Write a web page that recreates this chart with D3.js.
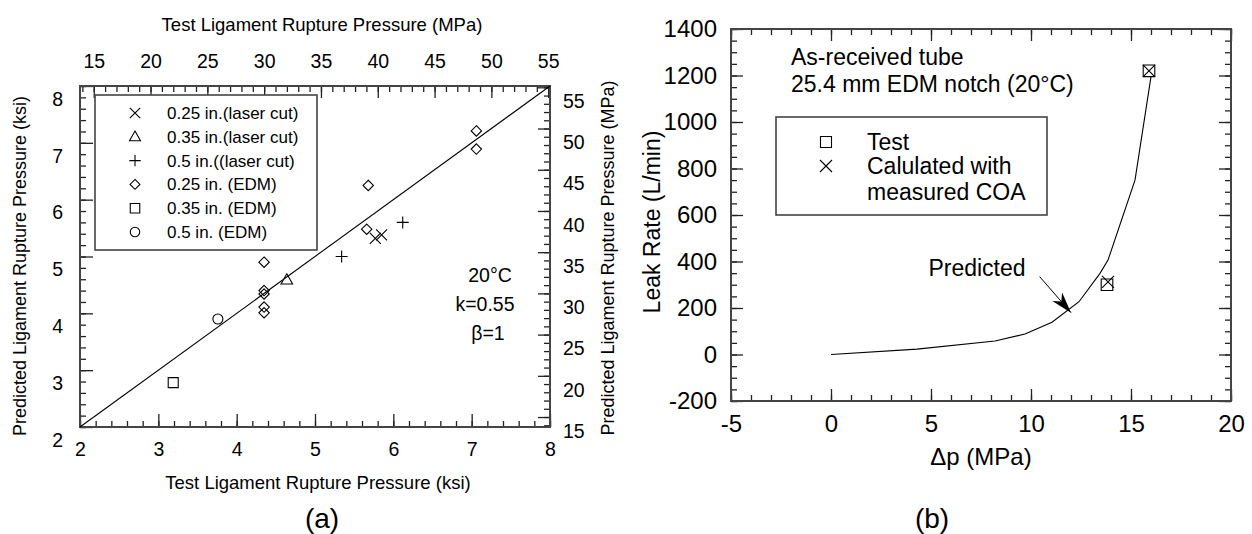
<!DOCTYPE html>
<html><head><meta charset="utf-8">
<script src="https://cdn.jsdelivr.net/npm/d3@7"></script>
<style>
body{margin:0;background:#fff;}
svg text{font-family:"Liberation Sans",Arial,Helvetica,sans-serif;fill:#000;}
</style></head>
<body><svg id="c" width="1252" height="534"></svg>
<script>
// ---------- data: panel (a) ----------
const laser025 = [[5.77,5.32],[5.85,5.38]];
const laser035 = [[4.64,4.59]];
const laser05  = [[5.34,5.00],[6.12,5.60]];
const edm025   = [[4.35,4.90],[4.35,4.40],[4.35,4.34],[4.35,4.11],[4.35,4.01],[5.66,5.48],[5.68,6.25],[7.06,7.21],[7.06,6.89]];
const edm035   = [[3.19,2.78]];
const edm05    = [[3.76,3.90]];
const legendA  = ["0.25 in.(laser cut)","0.35 in.(laser cut)","0.5 in.((laser cut)","0.25 in. (EDM)","0.35 in. (EDM)","0.5 in. (EDM)"];
const ksiTicks = [2,3,4,5,6,7,8];
const mpaTicks = [15,20,25,30,35,40,45,50,55];
const annotA   = ["20°C","k=0.55","β=1"];
const KSI2MPA = 6.895;

// ---------- data: panel (b) ----------
const predDp   = [0, 4.3, 8.2, 9.7, 11.05, 12.4, 13.45, 13.85, 15.2, 16.0];
const predLeak = [0, 23, 58, 88, 139, 227, 349, 406, 750, 1195];
const testPts  = [[15.9,1220],[13.8,300]];
const calcPts  = [[15.9,1220],[13.85,312]];
const dpTicks  = [-5,0,5,10,15,20];
const leakTicks= [-200,0,200,400,600,800,1000,1200,1400];
const legendB  = ["Test","Calulated with","measured COA"];
const titleB   = ["As-received tube","25.4 mm EDM notch (20°C)"];

const svg = d3.select("#c");
const INK = "#222";
const fmt = d => String(d);

// symbol path generators (relative to centre)
const sym = {
  x: s => `M${-s},${-s}L${s},${s}M${-s},${s}L${s},${-s}`,
  plus: s => `M${-s},0H${s}M0,${-s}V${s}`,
  tri: s => `M0,${-s*1.1}L${s*1.05},${s*0.75}L${-s*1.05},${s*0.75}Z`,
  diamond: s => `M0,${-s}L${s},0L0,${s}L${-s},0Z`,
  square: s => `M${-s},${-s}H${s}V${s}H${-s}Z`,
  circle: s => `M${s},0A${s},${s} 0 1,1 ${-s},0A${s},${s} 0 1,1 ${s},0`
};

function styleAxis(g){
  g.select(".domain").remove();
  g.selectAll("line").attr("stroke",INK).attr("stroke-width",1.3);
}

// ================= panel (a) =================
const A = {l:80, r:550, t:86, b:427};
const xA = d3.scaleLinear().domain([2,8]).range([A.l,A.r]);
const yA = d3.scaleLinear().domain([2,8]).range([A.b,A.t]);
const xM = d3.scaleLinear().domain([2*KSI2MPA,8*KSI2MPA]).range([A.l,A.r]);
const yM = d3.scaleLinear().domain([2*KSI2MPA,8*KSI2MPA]).range([A.b,A.t]);
const gA = svg.append("g");

const minorKsi = d3.range(2,8.001,0.2).map(v=>+v.toFixed(1));
const minorMpa = d3.range(14,56,1);
// bottom
gA.append("g").attr("transform",`translate(0,${A.b})`)
  .call(d3.axisBottom(xA).tickValues(minorKsi).tickSize(-6).tickFormat("")).call(styleAxis);
gA.append("g").attr("transform",`translate(0,${A.b})`)
  .call(d3.axisBottom(xA).tickValues(ksiTicks).tickSize(-13).tickPadding(15).tickFormat(fmt))
  .call(styleAxis).call(g=>g.selectAll("text").attr("font-size",19.5));
// left
gA.append("g").attr("transform",`translate(${A.l},0)`)
  .call(d3.axisLeft(yA).tickValues(minorKsi).tickSize(-6).tickFormat("")).call(styleAxis);
gA.append("g").attr("transform",`translate(${A.l},0)`)
  .call(d3.axisLeft(yA).tickValues(ksiTicks).tickSize(-13).tickPadding(17).tickFormat(fmt))
  .call(styleAxis).call(g=>g.selectAll("text").attr("font-size",19.5).attr("transform","translate(0,13)"));
// top (MPa)
gA.append("g").attr("transform",`translate(0,${A.t})`)
  .call(d3.axisTop(xM).tickValues(minorMpa).tickSize(-6).tickFormat("")).call(styleAxis);
gA.append("g").attr("transform",`translate(0,${A.t})`)
  .call(d3.axisTop(xM).tickValues(mpaTicks).tickSize(-12).tickPadding(18).tickFormat(fmt))
  .call(styleAxis).call(g=>g.selectAll("text").attr("font-size",19.5));
// right (MPa)
gA.append("g").attr("transform",`translate(${A.r},0)`)
  .call(d3.axisRight(yM).tickValues(minorMpa).tickSize(-6).tickFormat("")).call(styleAxis);
gA.append("g").attr("transform",`translate(${A.r},0)`)
  .call(d3.axisRight(yM).tickValues(mpaTicks).tickSize(-12).tickPadding(13).tickFormat(fmt))
  .call(styleAxis).call(g=>g.selectAll("text").attr("font-size",19.5).attr("transform","translate(0,14)"));
// frame
gA.append("rect").attr("x",A.l).attr("y",A.t).attr("width",A.r-A.l).attr("height",A.b-A.t)
  .attr("fill","none").attr("stroke","#444").attr("stroke-width",2);
// diagonal y=x
gA.append("line").attr("x1",xA(2)).attr("y1",yA(2)).attr("x2",xA(8)).attr("y2",yA(8))
  .attr("stroke","#000").attr("stroke-width",1.1);

const seriesA = [
  {d:laser025,s:"x",r:5.5},
  {d:laser035,s:"tri",r:5.5},
  {d:laser05,s:"plus",r:6},
  {d:edm025,s:"diamond",r:5.2},
  {d:edm035,s:"square",r:5},
  {d:edm05,s:"circle",r:5}
];
seriesA.forEach(ser=>{
  gA.append("g").selectAll("path").data(ser.d).join("path")
    .attr("transform",d=>`translate(${xA(d[0])},${yA(d[1])})`)
    .attr("d",sym[ser.s](ser.r)).attr("fill","none").attr("stroke","#000").attr("stroke-width",1.1);
});

// legend (a)
const legA = gA.append("g");
legA.append("rect").attr("x",95).attr("y",95).attr("width",222).attr("height",155)
  .attr("fill","#fff").attr("stroke","#444").attr("stroke-width",1.6);
legendA.forEach((t,i)=>{
  const yy = 113 + i*23.8;
  legA.append("path").attr("transform",`translate(135,${yy})`)
    .attr("d",sym[seriesA[i].s](seriesA[i].r*0.95)).attr("fill","none").attr("stroke","#000").attr("stroke-width",1.1);
  legA.append("text").attr("x",167).attr("y",yy).attr("dy","0.35em").attr("font-size",17).text(t);
});
// annotations
annotA.forEach((t,i)=>{
  gA.append("text").attr("x",[490,485,488][i]).attr("y",[275,304,333][i])
    .attr("text-anchor","middle").attr("dy","0.35em").attr("font-size",19.5).text(t);
});
// titles
gA.append("text").attr("x",322).attr("y",25).attr("text-anchor","middle").attr("dy","0.35em")
  .attr("font-size",18.5).text("Test Ligament Rupture Pressure (MPa)");
gA.append("text").attr("x",318).attr("y",483).attr("text-anchor","middle").attr("dy","0.35em")
  .attr("font-size",18.5).text("Test Ligament Rupture Pressure (ksi)");
gA.append("text").attr("transform","translate(20,266) rotate(-90)").attr("text-anchor","middle").attr("dy","0.35em")
  .attr("font-size",18).text("Predicted Ligament Rupture Pressure (ksi)");
gA.append("text").attr("transform","translate(608,258) rotate(-90)").attr("text-anchor","middle").attr("dy","0.35em")
  .attr("font-size",18).text("Predicted Ligament Rupture Pressure (MPa)");
gA.append("text").attr("x",322).attr("y",518).attr("text-anchor","middle").attr("dy","0.35em")
  .attr("font-size",28).text("(a)");

// ================= panel (b) =================
const B = {l:731, r:1231, t:29, b:401};
const xB = d3.scaleLinear().domain([-5,20]).range([B.l,B.r]);
const yB = d3.scaleLinear().domain([-200,1400]).range([B.b,B.t]);
const gB = svg.append("g");
const minorDp = d3.range(-5,20.01,1);
const minorLeak = d3.range(-200,1400.1,50);
[[B.b,d3.axisBottom],[B.t,d3.axisTop]].forEach(([yy,ax],k)=>{
  gB.append("g").attr("transform",`translate(0,${yy})`)
    .call(ax(xB).tickValues(minorDp).tickSize(-6).tickFormat("")).call(styleAxis);
  gB.append("g").attr("transform",`translate(0,${yy})`)
    .call(ax(xB).tickValues(dpTicks).tickSize(-12).tickPadding(14).tickFormat(k===0?fmt:""))
    .call(styleAxis).call(g=>g.selectAll("text").attr("font-size",24));
});
[[B.l,d3.axisLeft],[B.r,d3.axisRight]].forEach(([xx,ax],k)=>{
  gB.append("g").attr("transform",`translate(${xx},0)`)
    .call(ax(yB).tickValues(minorLeak).tickSize(-6).tickFormat("")).call(styleAxis);
  gB.append("g").attr("transform",`translate(${xx},0)`)
    .call(ax(yB).tickValues(leakTicks).tickSize(-12).tickPadding(14).tickFormat(k===0?fmt:""))
    .call(styleAxis).call(g=>g.selectAll("text").attr("font-size",24));
});
gB.append("rect").attr("x",B.l).attr("y",B.t).attr("width",B.r-B.l).attr("height",B.b-B.t)
  .attr("fill","none").attr("stroke","#444").attr("stroke-width",2);

// predicted curve
const pred = predDp.map((d,i)=>[d,predLeak[i]]);
gB.append("path").datum(pred)
  .attr("d",d3.line().x(d=>xB(d[0])).y(d=>yB(d[1])))
  .attr("fill","none").attr("stroke","#000").attr("stroke-width",1.1);
// markers
gB.append("g").selectAll("path").data(testPts).join("path")
  .attr("transform",d=>`translate(${xB(d[0])},${yB(d[1])})`)
  .attr("d",sym.square(5.8)).attr("fill","none").attr("stroke","#000").attr("stroke-width",1.1);
gB.append("g").selectAll("path").data(calcPts).join("path")
  .attr("transform",d=>`translate(${xB(d[0])},${yB(d[1])})`)
  .attr("d",sym.x(6)).attr("fill","none").attr("stroke","#000").attr("stroke-width",1.1);

// title text
titleB.forEach((t,i)=>{
  gB.append("text").attr("x",791).attr("y",57+i*26.5).attr("dy","0.35em").attr("font-size",23).text(t);
});
// legend (b)
gB.append("rect").attr("x",776).attr("y",117).attr("width",271).attr("height",98)
  .attr("fill","#fff").attr("stroke","#444").attr("stroke-width",1.6);
gB.append("path").attr("transform","translate(826,142)").attr("d",sym.square(5.5))
  .attr("fill","none").attr("stroke","#000").attr("stroke-width",1.1);
gB.append("path").attr("transform","translate(826,166)").attr("d",sym.x(6))
  .attr("fill","none").attr("stroke","#000").attr("stroke-width",1.1);
legendB.forEach((t,i)=>{
  gB.append("text").attr("x",867).attr("y",[142,166,192][i]).attr("dy","0.35em").attr("font-size",23).text(t);
});
// predicted label + arrow
gB.append("text").attr("x",xB(7.3)).attr("y",yB(372)).attr("text-anchor","middle").attr("dy","0.35em")
  .attr("font-size",23).text("Predicted");
const a0=[xB(10.43),yB(335)], a1=[xB(12.0),yB(180)];
const ang = Math.atan2(a1[1]-a0[1],a1[0]-a0[0]);
gB.append("line").attr("x1",a0[0]).attr("y1",a0[1]).attr("x2",a1[0]).attr("y2",a1[1])
  .attr("stroke","#000").attr("stroke-width",1);
const L=21, Wd=6.5;
const hp = [
  a1,
  [a1[0]-L*Math.cos(ang)+Wd*Math.sin(ang), a1[1]-L*Math.sin(ang)-Wd*Math.cos(ang)],
  [a1[0]-L*0.7*Math.cos(ang), a1[1]-L*0.7*Math.sin(ang)],
  [a1[0]-L*Math.cos(ang)-Wd*Math.sin(ang), a1[1]-L*Math.sin(ang)+Wd*Math.cos(ang)]
];
gB.append("path").attr("d","M"+hp.map(p=>p.join(",")).join("L")+"Z").attr("fill","#000");

// axis titles
gB.append("text").attr("x",981).attr("y",457).attr("text-anchor","middle").attr("dy","0.35em")
  .attr("font-size",24).text("Δp (MPa)");
gB.append("text").attr("transform","translate(652,222) rotate(-90)").attr("text-anchor","middle").attr("dy","0.35em")
  .attr("font-size",23).text("Leak Rate (L/min)");
gB.append("text").attr("x",932).attr("y",518).attr("text-anchor","middle").attr("dy","0.35em")
  .attr("font-size",28).text("(b)");
</script></body></html>
